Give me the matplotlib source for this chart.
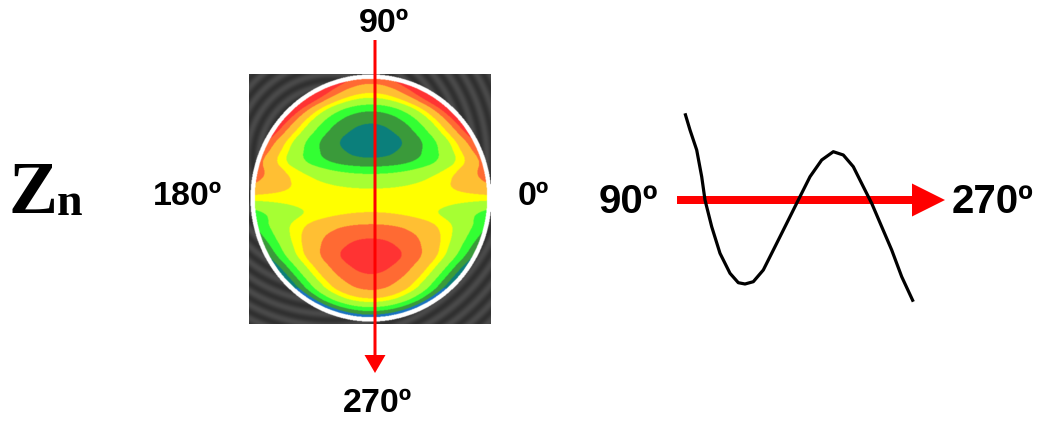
import numpy as np
import matplotlib
matplotlib.use("Agg")
import matplotlib.pyplot as plt
from matplotlib.colors import ListedColormap, BoundaryNorm
from matplotlib.patches import FancyArrow

# ---- data ----
# colour bands of the wavefront map (level index -> colour)
map_levels = [-9, -3.5, -2.5, -1.5, -0.35, 0.35, 1.5, 2.5, 9]
map_colors = ["#0b7f7c", "#3a9a3a", "#33ff33", "#a6ff33", "#ffff00",
              "#ffc033", "#ff6a33", "#ff3333"]
# vertical profile of the map through its centre (v: +1 top, -1 bottom),
# band level read at the colour boundaries of the picture
prof_v = [-1.0, -0.92, -0.88, -0.83, -0.78, -0.64, -0.48, -0.33, -0.21,
          -0.14, 0.0, 0.09, 0.21, 0.26, 0.32, 0.47, 0.63, 0.73, 0.78,
          0.83, 0.95, 1.0]
prof_lvl = [-4.0, -2.0, -0.35, 0.35, 1.5, 2.5, 3.2, 2.5, 1.5, 0.35, 0.0,
            -0.35, -1.5, -2.5, -3.5, -4.2, -3.5, -2.5, -1.5, -0.35, 1.5, 2.2]

# profile along the 90°->270° line (pixel coords)
curve_x = [685, 690, 696.7, 701.7, 705, 711.7, 720, 730, 738.3, 745, 753.3,
           763.3, 775, 786.7, 798.3, 810, 821.7, 833.3, 843.3, 853.3, 863.3,
           871.7, 881.7, 891.7, 901.7, 913.3]
curve_y = [113.3, 130, 150, 176.7, 200, 226.7, 253.3, 273.3, 282.7, 284,
           281.7, 270, 246.7, 223.3, 200, 176.7, 160, 151.7, 155, 166.7,
           186.7, 203.3, 226.7, 250, 276.7, 301.7]

disk_labels = ["90º", "270º", "180º", "0º"]
profile_labels = ["90º", "270º"]

W, H = 1041, 425
fig = plt.figure(figsize=(W / 100, H / 100), dpi=100)
ax = fig.add_axes([0, 0, 1, 1])
ax.set_xlim(0, W)
ax.set_ylim(H, 0)
ax.axis("off")

# ---- wavefront map image ----
x0, x1, y0, y1 = 249, 491, 74, 324
cx, cy, rx, ry = 371, 198, 117, 120
nx, ny = (x1 - x0) * 2, (y1 - y0) * 2
px = x0 + (np.arange(nx) + 0.5) / 2
py = y0 + (np.arange(ny) + 0.5) / 2
PX, PY = np.meshgrid(px, py)
u = (PX - cx) / rx
v = -(PY - cy) / ry
rho = np.sqrt(u ** 2 + v ** 2)

# smooth centre profile
vg = np.linspace(-1.2, 1.2, 1201)
pg = np.interp(vg, prof_v, prof_lvl)
kern = np.ones(51) / 51
pg = np.convolve(np.pad(pg, 25, mode="edge"), kern, mode="valid")
vc = np.clip(v, -1, 1)
base = np.interp(vc, vg, pg)
f = base + 18.0 * v * u ** 2

cmap = ListedColormap(map_colors)
norm = BoundaryNorm(map_levels, cmap.N)
rgb = cmap(norm(f))[..., :3]

# background fringes
rpx = np.sqrt((PX - cx + 40) ** 2 + (PY - cy + 40) ** 2)
g = 0.24 + 0.05 * np.cos(rpx * 2 * np.pi / 12.0)
bg = np.stack([g, g, g], axis=-1)
img = np.where((rho <= 1.0)[..., None], rgb, bg)
ring = (rho > 0.993) & (rho < 1.03)
img[ring] = 1.0
# thin blue rim at the bottom edge
rim = (rho > 0.972) & (rho <= 0.993) & (v < -0.75)
img[rim] = np.array([0.1, 0.45, 0.75])

ax.imshow(img, extent=(x0, x1, y1, y0), interpolation="bilinear", zorder=1)

# vertical red line with arrow head
ax.add_patch(FancyArrow(375, 40, 0, 373 - 40, width=3, head_width=21,
                        head_length=18, length_includes_head=True,
                        color="#ff0000", lw=0, zorder=3))

# ---- labels around the disk ----
tk = dict(family="Liberation Sans", weight="bold", color="black",
          ha="center", va="center", fontsize=24.5)
ax.text(384, 23, disk_labels[0], **tk)
ax.text(377, 403, disk_labels[1], **tk)
ax.text(187, 196, disk_labels[2], **tk)
ax.text(533, 196, disk_labels[3], **tk)

# Zn
ax.text(8, 213, "Z", family="Liberation Serif", weight="bold",
        fontsize=53, va="baseline", ha="left")
ax.text(57, 215, "n", family="Liberation Serif", weight="bold",
        fontsize=33, va="baseline", ha="left")

# ---- profile ----
ax.add_patch(FancyArrow(677, 200, 945 - 677, 0, width=8, head_width=33,
                        head_length=33, length_includes_head=True,
                        color="#ff0000", lw=0, zorder=2))
ax.plot(curve_x, curve_y, color="black", lw=2.3, solid_capstyle="butt",
        zorder=3)
tk2 = dict(tk, fontsize=29)
ax.text(628, 202, profile_labels[0], **tk2)
ax.text(993, 202, profile_labels[1], **tk2)

fig.savefig("out.png", dpi=100)
